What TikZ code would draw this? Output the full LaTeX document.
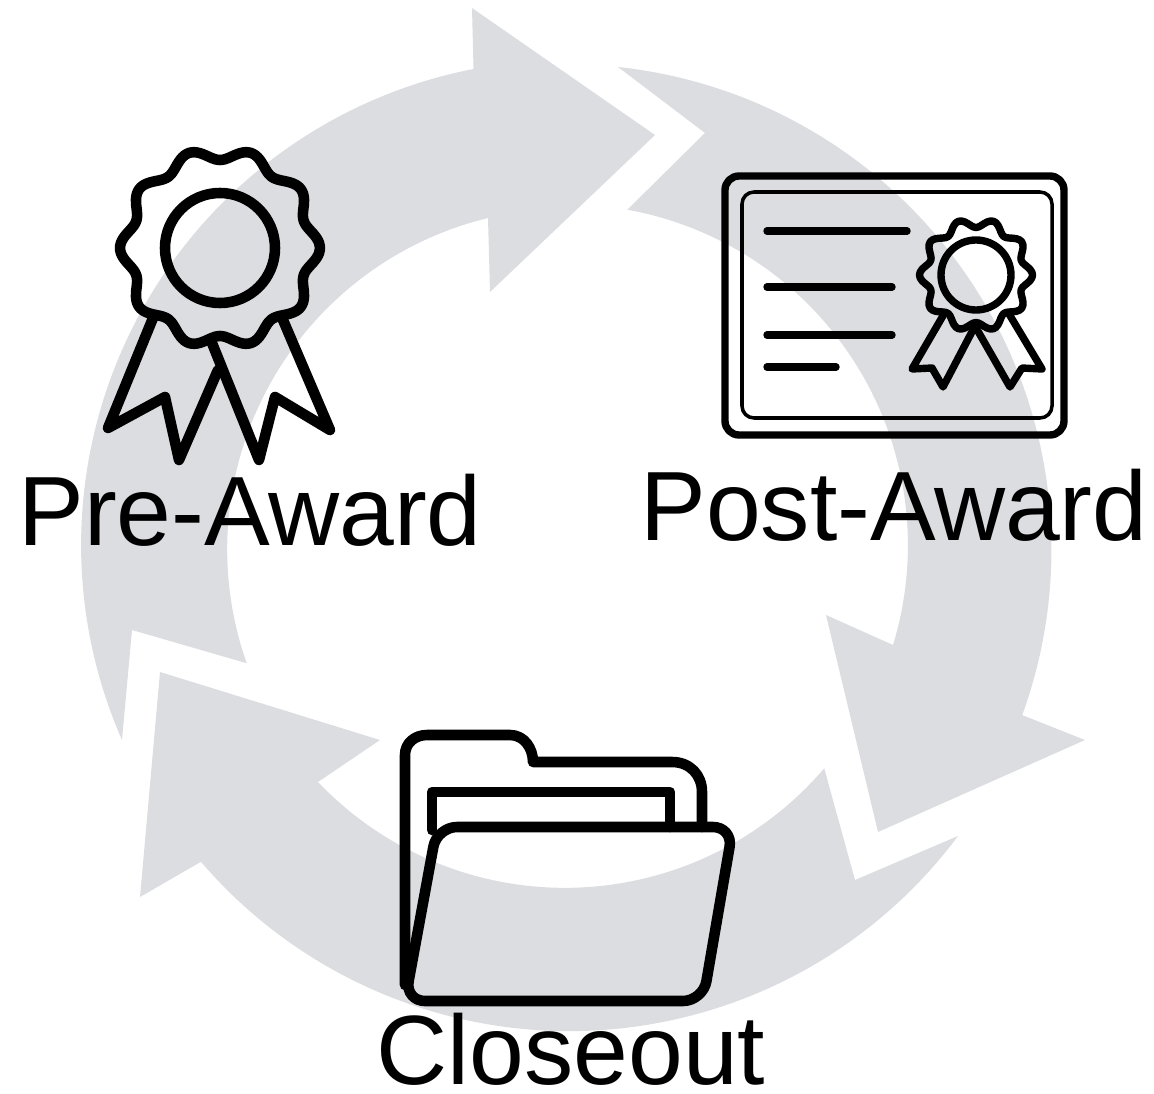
\documentclass[tikz,border=0pt]{standalone}
\usepackage{fontspec}
\setmainfont{Liberation Sans}
\definecolor{ring-gray}{HTML}{DCDDE1}
\tikzset{
  ring arrow/.style={fill=ring-gray, draw=none},
  icon line/.style={draw=black, line width=3pt, line join=round, line cap=round},
  cert line/.style={draw=black, line width=2.1pt, line join=round, line cap=round},
  stage label/.style={font=\fontsize{28pt}{30pt}\selectfont, anchor=base, inner sep=0pt}
}
\begin{document}
\begin{tikzpicture}[x=0.01cm, y=-0.01cm]
    \useasboundingbox (0,0) rectangle (1154,1094);
    % ---- Ring of three arrows
    \path[ring arrow] (122,740) arc[start angle=156.3, end angle=259, radius=485]
        -- (472,8) -- (655,135) -- (490,292) -- (488,218)
        arc[start angle=256.4, end angle=160.5, radius=341] -- (132,630) -- cycle;
    \path[ring arrow] (618,67) arc[start angle=276.1, end angle=380, radius=485]
        -- (1085,740) -- (878,832) -- (826,615) -- (893,645)
        arc[start angle=377, end angle=280.2, radius=341] -- (705,133) -- cycle;
    \path[ring arrow] (958,836) arc[start angle=36.7, end angle=139.4, radius=485]
        -- (140,897) -- (160,672) -- (380,740) -- (318,782)
        arc[start angle=136.4, end angle=40.5, radius=341] -- (855,880) -- cycle;
    % ---- Pre-Award rosette
    \draw[icon line] plot[domain=0:360, samples=121, smooth cycle]
        ({220+(94+6*cos(10*\x))*cos(\x)}, {248+(94+6*cos(10*\x))*sin(\x)});
    \draw[icon line] (220,248) circle[radius=55];
    \draw[icon line] (153,318) -- (108,428) -- (165,397) -- (179,460) -- (218,370);
    \draw[icon line] (212,343) -- (259,460) -- (275,397) -- (330,430) -- (283,320);
    % ---- Post-Award certificate
    \draw[cert line, rounded corners=0.14cm] (725,176) rectangle (1064,435);
    \draw[draw=black, line width=1pt, rounded corners=0.12cm] (742,192) rectangle (1052,418);
    \draw[cert line] (767,231) -- (907,231);
    \draw[cert line] (767,287) -- (892,287);
    \draw[cert line] (767,335) -- (892,335);
    \draw[cert line] (767,367) -- (836,367);
    \draw[cert line] plot[domain=0:360, samples=121, smooth cycle]
        ({976+(52+4.5*cos(10*\x))*cos(\x)}, {275+(52+4.5*cos(10*\x))*sin(\x)});
    \draw[cert line] (976,275) circle[radius=35];
    \draw[cert line] (944,314) -- (912,369) -- (932,368) -- (943,387) -- (975,326);
    \draw[cert line] (975,326) -- (1010,387) -- (1022,368) -- (1042,369) -- (1009,314);
    % ---- Closeout folder
    \draw[icon line] (405,985) -- (405,755) .. controls (405,743) and (415,735) .. (427,735)
        -- (510,735) .. controls (524,735) and (533,748) .. (533,762)
        -- (672,762) .. controls (690,762) and (702,775) .. (702,792) -- (702,827);
    \draw[icon line] (432,830) -- (432,792) -- (670,792) -- (670,827);
    \draw[icon line, rounded corners=0.2cm] (437,827) -- (733,827) -- (703,1001)
        -- (405,1001) -- cycle;
    % ---- Labels
    \node[stage label] (pre-award) at (250,545) {Pre-Award};
    \node[stage label] (post-award) at (894,541) {Post-Award};
    \node[stage label] (closeout) at (571,1084) {Closeout};
\end{tikzpicture}
\end{document}
